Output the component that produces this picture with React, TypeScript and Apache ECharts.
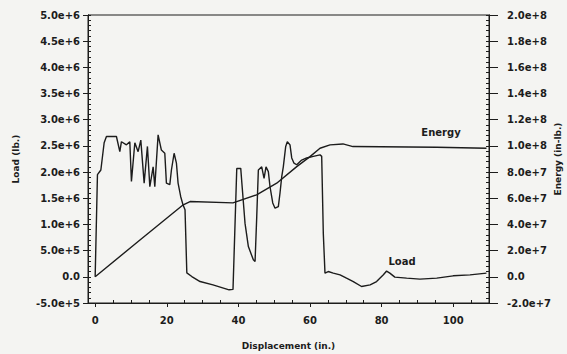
import React, { useEffect, useRef } from "react";
import * as echarts from "echarts";

// Load (lb.) vs displacement (in.)
const loadX = [0, 0.64, 1.59, 2.51, 3.15, 5.94, 6.89, 7.34, 8.74, 9.68, 10.13, 11.08, 12.0, 12.75, 13.68, 14.6, 15.27, 16.19, 16.66, 17.58, 18.5, 19.45, 19.9, 20.85, 21.3, 22.05, 22.7, 23.16, 23.9, 24.56, 25.1, 25.6, 27.0, 29.3, 32.9, 37.4, 38.5, 39.55, 40.66, 40.94, 41.86, 42.79, 44.18, 44.66, 45.13, 45.58, 46.52, 47.17, 47.72, 48.37, 48.84, 49.6, 50.24, 51.16, 51.63, 52.1, 52.55, 53.22, 53.67, 54.42, 54.9, 55.54, 56.29, 57.69, 59.08, 60.93, 62.8, 63.27, 63.72, 64.19, 65.1, 66.5, 68.4, 70.2, 72.1, 74.4, 76.8, 78.6, 80.5, 81.4, 82.3, 83.7, 87.0, 90.7, 95.4, 100.0, 104.7, 109.3];
const loadY = [0, 1.95e6, 2.04e6, 2.56e6, 2.68e6, 2.68e6, 2.39e6, 2.58e6, 2.52e6, 2.58e6, 1.82e6, 2.56e6, 2.39e6, 2.61e6, 1.79e6, 2.49e6, 1.72e6, 2.1e6, 1.72e6, 2.71e6, 2.42e6, 2.36e6, 1.79e6, 1.76e6, 2.04e6, 2.36e6, 2.17e6, 1.79e6, 1.53e6, 1.37e6, 1.28e6, 7.6e4, 5e3, -9.0e4, -1.53e5, -2.48e5, -2.4e5, 2.07e6, 2.07e6, 1.82e6, 1.02e6, 5.78e5, 3.24e5, 2.92e5, 1.15e6, 2.04e6, 2.1e6, 1.88e6, 2.1e6, 2.01e6, 1.72e6, 1.41e6, 1.31e6, 1.34e6, 1.6e6, 1.91e6, 2.1e6, 2.49e6, 2.58e6, 2.52e6, 2.27e6, 2.17e6, 2.14e6, 2.23e6, 2.27e6, 2.3e6, 2.33e6, 2.3e6, 8.3e5, 7.1e4, 1.01e5, 7.1e4, 3.8e4, -2.5e4, -9.0e4, -1.85e5, -1.53e5, -9.0e4, 3.8e4, 1.1e5, 7.1e4, -6e3, -2.5e4, -4.4e4, -2.5e4, 1.9e4, 3.8e4, 7.1e4];

// Energy (in-lb.) vs displacement (in.)
const energyX = [0, 12, 24.6, 26.5, 38.5, 45.1, 50.7, 56.3, 60.0, 62.8, 65.6, 69.2, 72.0, 95.4, 109.3];
const energyY = [0, 2.7e7, 5.5e7, 5.75e7, 5.65e7, 6.26e7, 7.15e7, 8.42e7, 9.18e7, 9.82e7, 1.008e8, 1.015e8, 9.95e7, 9.9e7, 9.82e7];

const xMajorTicks = [0, 20, 40, 60, 80, 100];
const xMinorTicks = [5, 10, 15, 25, 30, 35, 45, 50, 55, 65, 70, 75, 85, 90, 95, 105];

const energyLabel = { text: "Energy", x: 96.6, y: 1.1e8 };
const loadLabel = { text: "Load", x: 85.7, y: 2.9e5 };

const INK = "#1c1c1c";
const FONT = "DejaVu Sans";

const fmt = (v: number) => (Math.abs(v) < 1e-6 ? "0.0" : v.toExponential(1));

export default function App() {
  const ref = useRef<HTMLDivElement>(null);
  useEffect(() => {
    document.body.style.margin = "0";
    const chart = echarts.init(ref.current!, undefined, { renderer: "svg" });
    const labelStyle = { color: INK, fontFamily: FONT, fontWeight: "bold" as const, fontSize: 10 };
    const nameStyle = { color: INK, fontFamily: FONT, fontWeight: "bold" as const, fontSize: 9 };
    const tagStyle = { color: INK, fontFamily: FONT, fontWeight: "bold" as const, fontSize: 10 };
    chart.setOption({
      animation: false,
      backgroundColor: "#f4f4f2",
      grid: {
        left: 88, right: 78, top: 15, bottom: 51, containLabel: false, outerBoundsMode: "none",
        show: true, borderColor: INK, borderWidth: 1, backgroundColor: "transparent",
      },
      xAxis: [
        {
          type: "value", min: -2, max: 110, position: "bottom",
          name: "Displacement (in.)", nameLocation: "middle", nameGap: 38, nameTextStyle: nameStyle,
          nameMoveOverlap: false,
          axisLine: { show: true, onZero: false, lineStyle: { color: INK, width: 1 } },
          axisTick: { show: true, inside: false, length: 4, customValues: xMajorTicks, lineStyle: { color: INK } },
          axisLabel: { ...labelStyle, margin: 12, customValues: xMajorTicks },
          splitLine: { show: false },
        },
        {
          type: "value", min: -2, max: 110, position: "bottom",
          axisLine: { show: true, onZero: false, lineStyle: { color: INK, width: 1 } },
          axisTick: { show: true, inside: true, length: 3, customValues: xMinorTicks, lineStyle: { color: INK } },
          axisLabel: { show: false },
          splitLine: { show: false },
        },
      ],
      yAxis: [
        {
          type: "value", min: -5e5, max: 5e6, interval: 5e5, position: "left",
          name: "Load (lb.)", nameLocation: "middle", nameGap: 68, nameTextStyle: nameStyle,
          nameMoveOverlap: false,
          axisLine: { show: true, onZero: false, lineStyle: { color: INK, width: 1 } },
          axisTick: { show: true, inside: false, length: 5, lineStyle: { color: INK } },
          axisLabel: { ...labelStyle, margin: 8, formatter: fmt },
          splitLine: { show: false },
        },
        {
          type: "value", min: -2e7, max: 2e8, interval: 2e7, position: "right",
          name: "Energy (in-lb.)", nameLocation: "middle", nameGap: 64, nameTextStyle: nameStyle,
          nameMoveOverlap: false,
          axisLine: { show: true, onZero: false, lineStyle: { color: INK, width: 1 } },
          axisTick: { show: true, inside: false, length: 9, lineStyle: { color: INK } },
          axisLabel: { ...labelStyle, margin: 18, formatter: fmt },
          splitLine: { show: false },
        },
        {
          type: "value", min: -5e5, max: 5e6, interval: 1e5, position: "left",
          axisLine: { show: true, onZero: false, lineStyle: { color: INK, width: 1 } },
          axisTick: { show: true, inside: true, length: 3, lineStyle: { color: INK } },
          axisLabel: { show: false },
          splitLine: { show: false },
        },
        {
          type: "value", min: -2e7, max: 2e8, interval: 4e6, position: "right",
          axisLine: { show: true, onZero: false, lineStyle: { color: INK, width: 1 } },
          axisTick: { show: true, inside: true, length: 3, lineStyle: { color: INK } },
          axisLabel: { show: false },
          splitLine: { show: false },
        },
      ],
      series: [
        {
          type: "line", name: "Load", xAxisIndex: 0, yAxisIndex: 0,
          data: loadX.map((x, i) => [x, loadY[i]]),
          showSymbol: false, symbol: "none",
          lineStyle: { color: INK, width: 1.4 },
          markPoint: {
            symbol: "circle", symbolSize: 1, itemStyle: { color: "transparent" },
            label: { show: true, position: "inside", ...tagStyle, formatter: () => loadLabel.text },
            data: [{ coord: [loadLabel.x, loadLabel.y] }],
          },
        },
        {
          type: "line", name: "Energy", xAxisIndex: 0, yAxisIndex: 1,
          data: energyX.map((x, i) => [x, energyY[i]]),
          showSymbol: false, symbol: "none",
          lineStyle: { color: INK, width: 1.4 },
          markPoint: {
            symbol: "circle", symbolSize: 1, itemStyle: { color: "transparent" },
            label: { show: true, position: "inside", ...tagStyle, formatter: () => energyLabel.text },
            data: [{ coord: [energyLabel.x, energyLabel.y] }],
          },
        },
      ],
    });
    return () => chart.dispose();
  }, []);
  return <div ref={ref} style={{ width: 567, height: 354 }} />;
}
